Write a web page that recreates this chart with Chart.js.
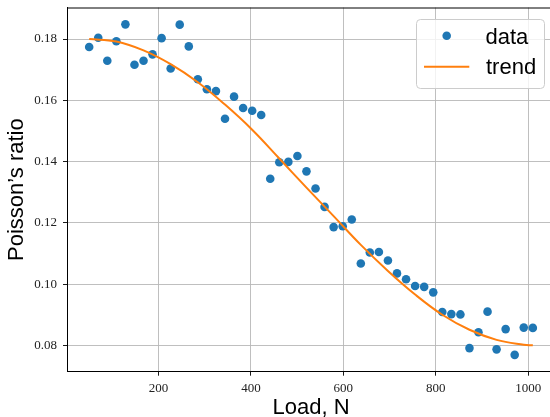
<!DOCTYPE html>
<html><head><meta charset="utf-8">
<script src="https://cdn.jsdelivr.net/npm/chart.js@4.4.0/dist/chart.umd.min.js"></script>
<style>html,body{margin:0;padding:0;background:#fff;overflow:hidden;}#wrap{width:560px;height:417px;position:relative;}</style>
</head><body><div id="wrap"><canvas id="c"></canvas></div>
<script>
const loadN = [50, 69.6, 89.2, 108.8, 128.4, 148.0, 167.6, 187.1, 206.7, 226.3,
  245.9, 265.5, 285.1, 304.7, 324.3, 343.9, 363.5, 383.1, 402.7, 422.2,
  441.8, 461.4, 481.0, 500.6, 520.2, 539.8, 559.4, 579.0, 598.6, 618.2,
  637.8, 657.3, 676.9, 696.5, 716.1, 735.7, 755.3, 774.9, 794.5, 814.1,
  833.7, 853.3, 872.9, 892.4, 912.0, 931.6, 951.2, 970.8, 990.4, 1010];
const poisson = [0.1774, 0.1804, 0.1729, 0.1793, 0.1848, 0.1716, 0.1729, 0.1750, 0.1803, 0.1704,
  0.1847, 0.1776, 0.1669, 0.1636, 0.1630, 0.1540, 0.1612, 0.1575, 0.1566, 0.1552,
  0.1344, 0.1398, 0.1399, 0.1418, 0.1368, 0.1312, 0.1252, 0.1186, 0.1189, 0.1211,
  0.1067, 0.1103, 0.1105, 0.1077, 0.1035, 0.1016, 0.0994, 0.0991, 0.0973, 0.0909,
  0.0902, 0.0901, 0.0791, 0.0843, 0.0910, 0.0787, 0.0853, 0.0769, 0.0858, 0.0857];
const trendLoad = [50, 108.8, 167.6, 226.3, 285.1, 343.9, 402.7, 461.4, 520.2, 579.0,
  637.8, 696.5, 755.3, 814.1, 872.9, 931.6, 990.4, 1010];
const trendRatio = [0.1800, 0.1792, 0.1763, 0.1718, 0.1659, 0.1586, 0.1504, 0.1410, 0.1315, 0.1222,
  0.1128, 0.1043, 0.0966, 0.0900, 0.0851, 0.0818, 0.0802, 0.0800];
const xTickValues = [200, 400, 600, 800, 1000];
const yTickValues = [0.08, 0.10, 0.12, 0.14, 0.16, 0.18];
const seriesNames = ['data', 'trend'];
const xTitle = 'Load, N';
const yTitle = 'Poisson\u2019s ratio';

const BLUE = '#1f77b4', ORANGE = '#ff7f0e';
const GRID = '#b8b8b8';
const SANS = '"Liberation Sans", Arial, sans-serif';
const SERIF = '"Liberation Serif", "Times New Roman", serif';

const spines = {
  id: 'spines',
  afterDatasetsDraw(chart) {
    const {ctx, chartArea: a} = chart;
    ctx.save();
    ctx.strokeStyle = '#000';
    ctx.lineWidth = 1;
    ctx.beginPath();
    ctx.moveTo(a.left, a.top + 0.5); ctx.lineTo(a.right, a.top + 0.5);
    ctx.moveTo(a.right - 0.5, a.top); ctx.lineTo(a.right - 0.5, a.bottom);
    ctx.stroke();
    ctx.restore();
  }
};

const legendBox = {
  id: 'legendBox',
  afterDraw(chart) {
    const {ctx, chartArea: a} = chart;
    const ds = chart.data.datasets;
    const w = 128, h = 69;
    const x = a.right - 11 - w, y = a.top + 11.5;
    ctx.save();
    ctx.beginPath();
    ctx.roundRect(x + 0.5, y + 0.5, w, h, 4);
    ctx.fillStyle = 'rgba(255,255,255,0.8)';
    ctx.fill();
    ctx.strokeStyle = '#cccccc';
    ctx.lineWidth = 1;
    ctx.stroke();
    ctx.beginPath();
    ctx.arc(x + 30.7, y + 16.7, 4.3, 0, Math.PI * 2);
    ctx.fillStyle = ds[0].backgroundColor;
    ctx.fill();
    ctx.beginPath();
    ctx.moveTo(x + 8, y + 47.7); ctx.lineTo(x + 53.3, y + 47.7);
    ctx.strokeStyle = ds[1].borderColor;
    ctx.lineWidth = 2;
    ctx.stroke();
    ctx.fillStyle = '#000';
    ctx.font = '22px ' + SANS;
    ctx.textBaseline = 'alphabetic';
    ctx.textAlign = 'left';
    ctx.fillText(ds[0].label, x + 69.5, y + 25);
    ctx.fillText(ds[1].label, x + 70, y + 55);
    ctx.restore();
  }
};

new Chart(document.getElementById('c'), {
  type: 'scatter',
  data: {
    datasets: [
      {
        label: seriesNames[0],
        data: loadN.map((v, i) => ({x: v, y: poisson[i]})),
        backgroundColor: BLUE,
        borderColor: BLUE,
        borderWidth: 0,
        pointRadius: 4.3,
        pointHoverRadius: 4.3,
        order: 1
      },
      {
        label: seriesNames[1],
        type: 'line',
        data: trendLoad.map((v, i) => ({x: v, y: trendRatio[i]})),
        borderColor: ORANGE,
        backgroundColor: ORANGE,
        borderWidth: 2,
        pointRadius: 0,
        tension: 0.4,
        fill: false,
        order: 0
      }
    ]
  },
  options: {
    responsive: true,
    maintainAspectRatio: false,
    animation: false,
    layout: {padding: {left: 0, right: 5, top: 7.5, bottom: 0}},
    plugins: {legend: {display: false}, tooltip: {enabled: false}},
    scales: {
      x: {
        type: 'linear',
        min: 2, max: 1058,
        afterBuildTicks: s => { s.ticks = xTickValues.map(v => ({value: v})); },
        afterFit: s => { s.height = 45.3; s.paddingLeft = 0; s.paddingRight = 0; s.paddingTop = 0; s.paddingBottom = 0; },
        grid: {color: GRID, lineWidth: 0.9, tickColor: '#000', tickLength: 4, drawOnChartArea: true},
        border: {color: '#000', width: 1},
        ticks: {color: '#222', padding: 5, maxRotation: 0, font: {family: SERIF, size: 13},
          callback: v => String(v)},
        title: {display: true, text: xTitle, color: '#000', font: {family: SANS, size: 22, lineHeight: '19px'},
          padding: {top: 0, bottom: 0}}
      },
      y: {
        type: 'linear',
        min: 0.0714, max: 0.1903,
        afterBuildTicks: s => { s.ticks = yTickValues.map(v => ({value: v})); },
        afterFit: s => { s.width = 67; s.paddingLeft = 0; s.paddingRight = 0; s.paddingTop = 0; s.paddingBottom = 0; },
        grid: {color: GRID, lineWidth: 0.9, tickColor: '#000', tickLength: 4},
        border: {color: '#000', width: 1},
        ticks: {color: '#222', padding: 6, font: {family: SERIF, size: 13},
          callback: v => v.toFixed(2)},
        title: {display: true, text: yTitle, color: '#000', font: {family: SANS, size: 22, lineHeight: 1.2},
          padding: {top: 4, bottom: 0}}
      }
    }
  },
  plugins: [spines, legendBox]
});
</script>
</body></html>
